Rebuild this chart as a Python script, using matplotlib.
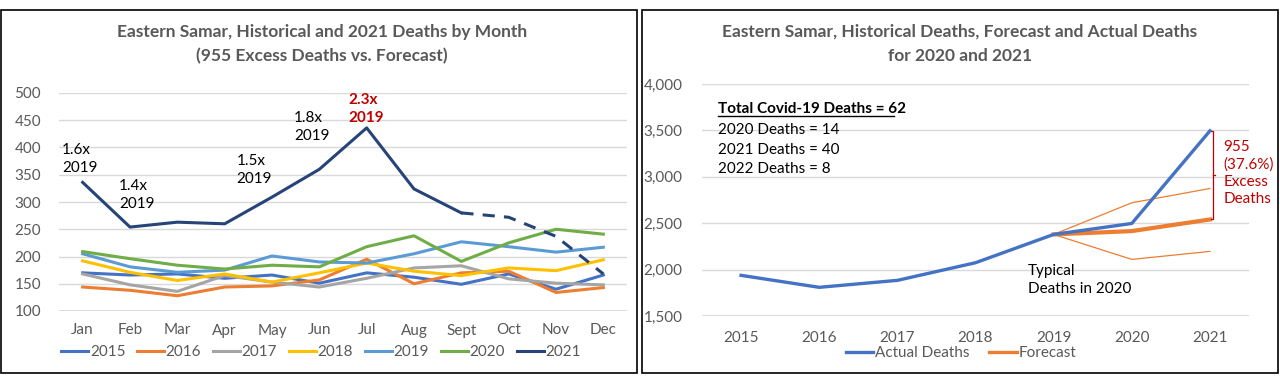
import matplotlib.pyplot as plt
from matplotlib.patches import Rectangle
from matplotlib.lines import Line2D

plt.rcParams['font.family'] = ['Lato', 'DejaVu Sans']

months = ['Jan', 'Feb', 'Mar', 'Apr', 'May', 'Jun', 'Jul', 'Aug', 'Sept', 'Oct', 'Nov', 'Dec']
d2015 = [170, 166, 168, 160, 166, 151, 170, 162, 149, 168, 140, 166]
d2016 = [144, 138, 128, 144, 146, 157, 195, 150, 170, 173, 134, 143]
d2017 = [168, 148, 136, 165, 153, 144, 160, 179, 183, 159, 151, 148]
d2018 = [192, 171, 156, 168, 153, 170, 188, 173, 165, 179, 174, 194]
d2019 = [205, 181, 171, 175, 201, 190, 188, 205, 227, 218, 208, 217]
d2020 = [209, 196, 184, 177, 184, 181, 218, 238, 191, 225, 250, 241]
d2021 = [336, 254, 263, 260, 309, 360, 436, 324, 280, 272, 237, 168]

years = ['2015', '2016', '2017', '2018', '2019', '2020', '2021']
actual = [1938, 1809, 1884, 2074, 2379, 2497, 3495]
forecast_years = ['2019', '2020', '2021']
forecast = [2379, 2415, 2540]
upper = [2379, 2720, 2874]
lower = [2379, 2110, 2196]

grey = '#595959'
grid = '#D9D9D9'
red = '#C00000'
fs = 11

fig = plt.figure(figsize=(12.8, 3.78), dpi=100)

# panel borders
fig.patches.append(Rectangle((1 / 1280, 5 / 378), 636 / 1280, 363 / 378, transform=fig.transFigure,
                             fill=False, edgecolor='black', linewidth=1.2))
fig.patches.append(Rectangle((642 / 1280, 5 / 378), 636 / 1280, 363 / 378, transform=fig.transFigure,
                             fill=False, edgecolor='black', linewidth=1.2))


def style(ax):
    for s in ax.spines.values():
        s.set_visible(False)
    ax.yaxis.grid(True, color=grid, linewidth=1)
    ax.set_axisbelow(True)
    ax.tick_params(length=0, colors=grey, labelsize=fs)
    ax.axhline(ax.get_ylim()[0], color=grid, linewidth=1.2, zorder=0)


# ---- left chart
ax1 = fig.add_axes([59 / 1280, 1 - 311 / 378, 568 / 1280, 218 / 378])
x = range(12)
series = [('2015', d2015, '#4472C4'), ('2016', d2016, '#ED7D31'), ('2017', d2017, '#A5A5A5'),
          ('2018', d2018, '#FFC000'), ('2019', d2019, '#5B9BD5'), ('2020', d2020, '#70AD47')]
for name, vals, c in series:
    ax1.plot(x, vals, color=c, linewidth=2.2, label=name)
ax1.plot(list(x)[:9], d2021[:9], color='#264478', linewidth=2.2)
ax1.plot(list(x)[8:], d2021[8:], color='#264478', linewidth=2.2, dashes=(4, 3))
ax1.set_xlim(-0.5, 11.5)
ax1.set_ylim(100, 500)
ax1.set_yticks(range(100, 501, 50))
ax1.set_xticks(list(x))
ax1.set_xticklabels(months)
style(ax1)
ax1.tick_params(axis='x', pad=9)
ax1.tick_params(axis='y', pad=13)

handles = [Line2D([], [], color=c, linewidth=2.2) for _, _, c in series]
handles.append(Line2D([], [], color='#264478', linewidth=2.2))
fig.legend(handles, [s[0] for s in series] + ['2021'], loc='center', ncol=7,
           bbox_to_anchor=(321 / 1280, 1 - 352 / 378), frameon=False, fontsize=fs,
           handlelength=1.8, handletextpad=0.1, columnspacing=0.75, labelcolor=grey)

fig.text(322 / 1280, 1 - 32 / 378, 'Eastern Samar, Historical and 2021 Deaths by Month',
         ha='center', va='center', fontsize=12.5, fontweight='bold', color=grey)
fig.text(322 / 1280, 1 - 56 / 378, '(955 Excess Deaths vs. Forecast)',
         ha='center', va='center', fontsize=12.5, fontweight='bold', color=grey)

notes = [(-0.44, 379, '1.6x\n2019'), (0.77, 313, '1.4x\n2019'), (3.25, 359, '1.5x\n2019'),
         (4.47, 438, '1.8x\n2019')]
for nx, ny, t in notes:
    ax1.text(nx, ny, t, fontsize=fs, color='black', va='center', linespacing=1.4)
ax1.text(5.62, 471, '2.3x\n2019', fontsize=fs, color=red, fontweight='bold',
         va='center', linespacing=1.4)

# ---- right chart
ax2 = fig.add_axes([702 / 1280, 1 - 316 / 378, 547 / 1280, 232 / 378])
xi = range(len(years))
ax2.plot(list(xi)[4:], upper, color='#ED7D31', linewidth=0.9)
ax2.plot(list(xi)[4:], lower, color='#ED7D31', linewidth=0.9)
ax2.plot(xi, actual, color='#4472C4', linewidth=2.4, zorder=3)
ax2.plot(list(xi)[4:], forecast, color='#ED7D31', linewidth=3, zorder=2)
ax2.set_xlim(-0.5, 6.5)
ax2.set_ylim(1500, 4000)
ax2.set_yticks(range(1500, 4001, 500))
ax2.set_yticklabels([f'{v:,}' for v in range(1500, 4001, 500)])
ax2.set_xticks(list(xi))
ax2.set_xticklabels(years)
style(ax2)
ax2.tick_params(axis='x', pad=11)
ax2.tick_params(axis='y', pad=14)

fig.legend([Line2D([], [], color='#4472C4', linewidth=2.4), Line2D([], [], color='#ED7D31', linewidth=2.4)],
           ['Actual Deaths', 'Forecast'], loc='center', ncol=2,
           bbox_to_anchor=(961 / 1280, 1 - 353 / 378), frameon=False, fontsize=fs,
           handlelength=1.8, handletextpad=0.1, columnspacing=1.3, labelcolor=grey)

fig.text(960 / 1280, 1 - 32 / 378, 'Eastern Samar, Historical Deaths, Forecast and Actual Deaths',
         ha='center', va='center', fontsize=12.5, fontweight='bold', color=grey)
fig.text(960 / 1280, 1 - 56 / 378, 'for 2020 and 2021',
         ha='center', va='center', fontsize=12.5, fontweight='bold', color=grey)

ax2.text(-0.295, 3731, 'Total Covid-19 Deaths = 62', fontsize=fs, fontweight='bold',
         va='center', color='black')
ax2.plot([-0.295, 1.96], [3650, 3650], color='black', linewidth=1)
ax2.text(-0.295, 3504, '2020 Deaths = 14', fontsize=fs, va='center', color='black')
ax2.text(-0.295, 3289, '2021 Deaths = 40', fontsize=fs, va='center', color='black')
ax2.text(-0.295, 3084, '2022 Deaths = 8', fontsize=fs, va='center', color='black')
ax2.text(3.67, 1888, 'Typical\nDeaths in 2020', fontsize=fs, va='center', color='black',
         linespacing=1.4)

# excess bracket
bx = 6.04
ax2.plot([bx - 0.03, bx, bx, bx - 0.03], [actual[-1], actual[-1], forecast[-1], forecast[-1]],
         color=red, linewidth=0.9)
ax2.plot([bx, bx + 0.03], [3017, 3017], color=red, linewidth=0.9)
ax2.text(6.17, 3040, '955\n(37.6%)\nExcess\nDeaths', fontsize=fs, color=red,
         va='center', linespacing=1.3)

fig.savefig('out.png', dpi=100)
